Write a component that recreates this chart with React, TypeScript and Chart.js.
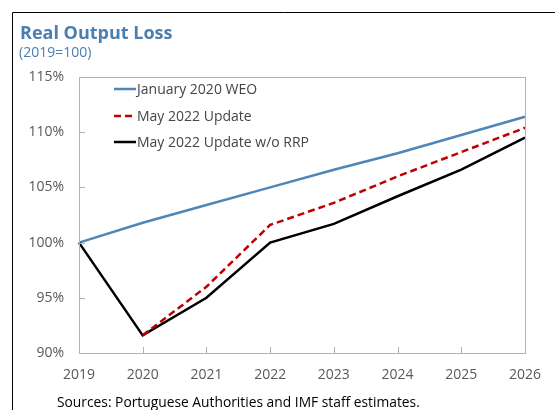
import React, { useEffect, useRef } from 'react';
import { Chart, registerables } from 'chart.js';

Chart.register(...registerables);

const years = ['2019', '2020', '2021', '2022', '2023', '2024', '2025', '2026'];
const jan2020WEO = [100, 101.8, 103.4, 105.0, 106.6, 108.1, 109.75, 111.4];
const may2022Update = [null, 91.6, 96.0, 101.6, 103.6, 106.0, 108.2, 110.4];
const may2022NoRRP = [100, 91.6, 95.0, 100.0, 101.7, 104.2, 106.6, 109.5];
const seriesNames = ['January 2020 WEO', 'May 2022 Update', 'May 2022 Update w/o RRP'];
const yTicks = [90, 95, 100, 105, 110, 115];

const TITLE = 'Real Output Loss';
const SUBTITLE = '(2019=100)';
const SOURCE = 'Sources: Portuguese Authorities and IMF staff estimates.';

const FONT = '"Open Sans", "Noto Sans", sans-serif';
const BLUE = '#4f86b8';
const TITLE_BLUE = '#4a7fb0';
const RED = '#c00000';
const GRAY_TEXT = '#595959';
const AXIS_GRAY = '#b3b3b3';

const decorPlugin = {
  id: 'decor',
  afterDraw(chart: any) {
    const ctx = chart.ctx;
    const area = chart.chartArea;
    const xs = chart.scales.x;
    const ys = chart.scales.y;
    ctx.save();
    // outer frame (top and left)
    ctx.strokeStyle = '#000';
    ctx.lineWidth = 1;
    ctx.beginPath();
    ctx.moveTo(555, 12.5);
    ctx.lineTo(12.5, 12.5);
    ctx.lineTo(12.5, 410);
    ctx.stroke();

    // title
    ctx.fillStyle = TITLE_BLUE;
    ctx.textBaseline = 'alphabetic';
    ctx.textAlign = 'left';
    ctx.font = `bold 18px ${FONT}`;
    ctx.fillText(TITLE, 20, 39);
    ctx.font = `14px ${FONT}`;
    ctx.fillText(SUBTITLE, 19, 57);

    // source
    ctx.fillStyle = '#000';
    ctx.font = `13.8px ${FONT}`;
    ctx.fillText(SOURCE, 57, 407);

    // plot border
    ctx.strokeStyle = AXIS_GRAY;
    ctx.lineWidth = 1;
    ctx.strokeRect(Math.round(area.left) + 0.5, Math.round(area.top) + 0.5,
      Math.round(area.right - area.left), Math.round(area.bottom - area.top));

    // inward ticks
    ctx.beginPath();
    yTicks.forEach((v) => {
      const py = Math.round(ys.getPixelForValue(v)) + 0.5;
      ctx.moveTo(area.left, py);
      ctx.lineTo(area.left + 6, py);
    });
    years.forEach((_, i) => {
      const px = Math.round(xs.getPixelForValue(i)) + 0.5;
      ctx.moveTo(px, area.bottom);
      ctx.lineTo(px, area.bottom - 6);
    });
    ctx.stroke();

    // legend
    const lx0 = 114;
    const lx1 = 136;
    const rows = [89, 116, 142];
    chart.data.datasets.forEach((ds: any, i: number) => {
      const y = rows[i];
      ctx.strokeStyle = ds.borderColor;
      ctx.lineWidth = ds.borderWidth;
      ctx.setLineDash(ds.borderDash || []);
      ctx.beginPath();
      ctx.moveTo(lx0, y);
      ctx.lineTo(lx1, y);
      ctx.stroke();
      ctx.setLineDash([]);
      ctx.fillStyle = '#444444';
      ctx.font = `14px ${FONT}`;
      ctx.textBaseline = 'middle';
      ctx.fillText(ds.label, lx1 + 1, y + 1);
    });
    ctx.restore();
  },
};

export default function App() {
  const ref = useRef<HTMLCanvasElement | null>(null);
  useEffect(() => {
    if (!ref.current) return;
    const chart = new Chart(ref.current, {
      type: 'line',
      data: {
        labels: years,
        datasets: [
          {
            label: seriesNames[0],
            data: jan2020WEO,
            borderColor: BLUE,
            borderWidth: 2.5,
            pointRadius: 0,
            fill: false,
            tension: 0,
            order: 2,
          },
          {
            label: seriesNames[1],
            data: may2022Update,
            borderColor: RED,
            borderWidth: 2.5,
            borderDash: [7, 4],
            pointRadius: 0,
            fill: false,
            tension: 0,
            order: 0,
          },
          {
            label: seriesNames[2],
            data: may2022NoRRP,
            borderColor: '#000000',
            borderWidth: 2.5,
            pointRadius: 0,
            fill: false,
            tension: 0,
            order: 1,
          },
        ],
      },
      options: {
        animation: false,
        responsive: false,
        devicePixelRatio: 1,
        layout: { padding: { top: 77, right: 27, left: 0, bottom: 0 } },
        plugins: {
          legend: { display: false },
          tooltip: { enabled: false },
          title: { display: false },
        },
        scales: {
          x: {
            type: 'category',
            offset: false,
            grid: { display: false, drawTicks: false },
            border: { display: false },
            ticks: {
              color: GRAY_TEXT,
              font: { family: FONT, size: 14 },
              padding: 14,
              maxRotation: 0,
              autoSkip: false,
            },
            afterFit: (scale: any) => {
              scale.height = 57;
            },
          },
          y: {
            min: 90,
            max: 115,
            grid: { display: false, drawTicks: false },
            border: { display: false },
            ticks: {
              stepSize: 5,
              color: GRAY_TEXT,
              font: { family: FONT, size: 14 },
              padding: 15,
              callback: (v: any) => `${v}%`,
            },
            afterFit: (scale: any) => {
              scale.width = 79;
            },
          },
        },
      },
      plugins: [decorPlugin],
    });
    return () => chart.destroy();
  }, []);
  return (
    <div style={{ position: 'fixed', left: 0, top: 0, width: 555, height: 410, background: '#fff' }}>
      <canvas ref={ref} width={555} height={410} style={{ width: 555, height: 410 }} />
    </div>
  );
}
